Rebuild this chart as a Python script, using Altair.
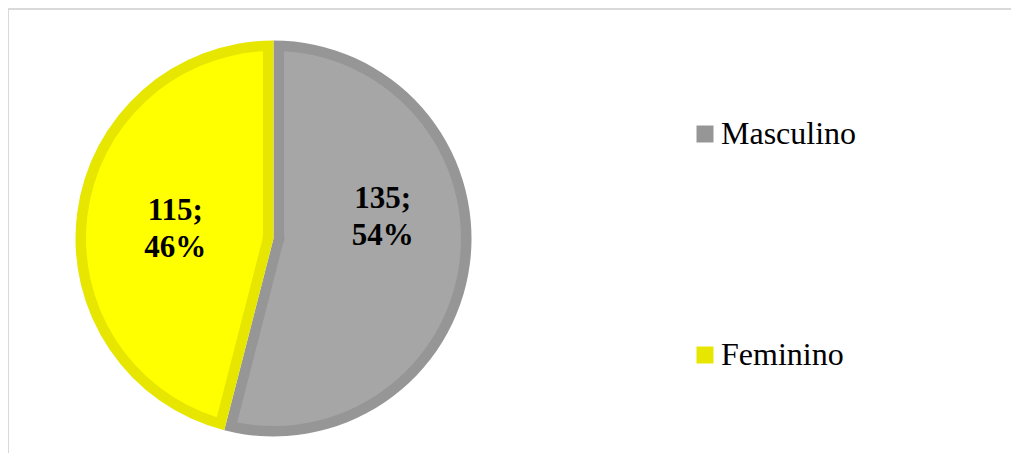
import math
import altair as alt
import pandas as pd

# ---- data ----
categories = ["Masculino", "Feminino"]
values = [135, 115]
percents = ["54%", "46%"]

# ---- styling ----
fill_colors = ["#a6a6a6", "#ffff00"]
edge_colors = ["#969696", "#e6e600"]
SERIF = "Liberation Serif"

W, H = 1003, 445
CX, CY = 265.5, 230.5
R_OUT = 198
BAND = 10.5
R_IN_FILL = R_OUT - BAND
R0 = 11
pad_angle = 2 * math.asin(BAND / math.sqrt(R0 ** 2 + R_IN_FILL ** 2))

df = pd.DataFrame({
    "cat": categories,
    "value": values,
    "idx": list(range(len(categories))),
    "label": [f"{v};\n{p}" for v, p in zip(values, percents)],
})
total = sum(values)

base = alt.Chart(df)

dark = base.mark_arc(outerRadius=R_OUT).encode(
    theta=alt.Theta("value:Q", stack=True),
    order=alt.Order("idx:Q"),
    color=alt.Color(
        "cat:N",
        scale=alt.Scale(domain=categories, range=edge_colors),
        sort=categories,
        legend=alt.Legend(
            orient="none", legendX=681, legendY=110, title=None,
            symbolType="square", symbolSize=289, symbolStrokeWidth=0,
            labelFont=SERIF, labelFontSize=32, labelColor="#000000",
            rowPadding=189, labelOffset=0, padding=0, symbolOpacity=1,
        ),
    ),
    x=alt.value(CX), y=alt.value(CY),
)

light = base.mark_arc(outerRadius=R_IN_FILL, innerRadius=R0, padAngle=pad_angle).encode(
    theta=alt.Theta("value:Q", stack=True),
    order=alt.Order("idx:Q"),
    color=alt.Color("cat:N", scale=alt.Scale(domain=categories, range=fill_colors), legend=None),
    x=alt.value(CX), y=alt.value(CY),
)


def label_layer(cat, dx, dy):
    return (
        base.transform_window(cum="sum(value)", sort=[{"field": "idx"}], frame=[None, 0])
        .transform_calculate(mid="datum.cum - datum.value / 2")
        .transform_filter(alt.datum.cat == cat)
        .mark_text(radius=100, dx=dx, dy=dy, font=SERIF, fontSize=31, fontWeight="bold",
                   color="#000000", lineBreak="\n", lineHeight=37, align="center", baseline="middle")
        .encode(
            theta=alt.Theta("mid:Q", scale=alt.Scale(domain=[0, total]), stack=None),
            text="label:N",
            x=alt.value(CX), y=alt.value(CY),
        )
    )


lab_m = label_layer("Masculino", 10, -52)
lab_f = label_layer("Feminino", 1, -15)

frame_top = base.mark_rule(color="#d9d9d9", strokeWidth=2).encode(
    x=alt.value(0), x2=alt.value(W), y=alt.value(1)
)
frame_left = base.mark_rule(color="#d9d9d9", strokeWidth=2).encode(
    x=alt.value(0), y=alt.value(0), y2=alt.value(H)
)

chart = (
    alt.layer(frame_top, frame_left, dark, light, lab_m, lab_f)
    .resolve_scale(color="independent", theta="independent")
    .properties(width=W, height=H, autosize=alt.AutoSizeParams(type="none"), padding=0,
                background="#ffffff")
    .configure_view(stroke=None)
)

chart.save("out.html", embed_options={"renderer": "svg", "actions": False})
